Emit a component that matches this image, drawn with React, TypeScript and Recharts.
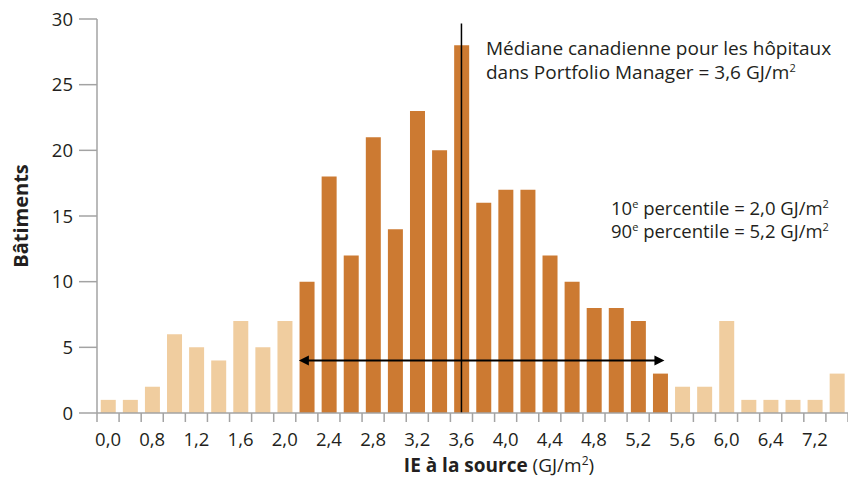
import { BarChart, Bar, Cell, XAxis, YAxis, ReferenceLine } from 'recharts';

// Nombre de bâtiments par tranche d'IE (GJ/m²)
const COUNTS = [1, 1, 2, 6, 5, 4, 7, 5, 7, 10, 18, 12, 21, 14, 23, 20, 28, 16, 17, 17, 12, 10, 8, 8, 7, 3, 2, 2, 7, 1, 1, 1, 1, 3];

// Étiquettes sous une barre sur deux (reprises telles quelles du graphique)
const TICK_LABELS = [
  '0,0', '', '0,8', '', '1,2', '', '1,6', '', '2,0', '', '2,4', '', '2,8', '', '3,2', '', '3,6',
  '', '4,0', '', '4,4', '', '4,8', '', '5,2', '', '5,6', '', '6,0', '', '6,4', '', '7,2', '',
];

const Y_TICKS = [0, 5, 10, 15, 20, 25, 30];

// Tranches entre le 10e et le 90e percentile
const P10_BIN = 9;
const P90_BIN = 25;
const MEDIAN_BIN = 16;
const ARROW_Y = 4;

const DARK = '#cc7a32';
const LIGHT = '#f0cd9f';
const AXIS = '#a3a3a3';
const INK = '#231f20';
const FONT = "'Open Sans', sans-serif";

const W = 848;
const H = 479;
const Y_AXIS_W = 97;
const PLOT_W = W - Y_AXIS_W;
const BAND = PLOT_W / COUNTS.length;

const data = COUNTS.map((count, i) => ({ bin: String(i), count }));

function XTick(props: any) {
  const { x, y, index } = props;
  const label = TICK_LABELS[index];
  const last = index === COUNTS.length - 1;
  return (
    <g>
      <line x1={x - BAND / 2} x2={x - BAND / 2} y1={y} y2={y + 9} stroke={AXIS} strokeWidth={1.5} />
      {last && <line x1={x + BAND / 2} x2={x + BAND / 2} y1={y} y2={y + 9} stroke={AXIS} strokeWidth={1.5} />}
      {label && (
        <text x={x} y={y + 33} textAnchor="middle" fontSize={18.5} fill={INK} fontFamily={FONT}>
          {label}
        </text>
      )}
    </g>
  );
}

// double flèche 10e → 90e percentile
function ArrowShape(props: any) {
  const { x1, x2, y1 } = props;
  const left = x1 - BAND * 0.36;
  const right = x2 + BAND * 0.19;
  return (
    <g>
      <line x1={left + 8} x2={right - 8} y1={y1} y2={y1} stroke="#000" strokeWidth={2} />
      <polygon points={`${left},${y1} ${left + 10},${y1 - 5} ${left + 10},${y1 + 5}`} fill="#000" />
      <polygon points={`${right},${y1} ${right - 10},${y1 - 5} ${right - 10},${y1 + 5}`} fill="#000" />
    </g>
  );
}

export default function App() {
  return (
    <div style={{ position: 'absolute', left: 0, top: 0, width: W, height: H, background: '#fff' }}>
      <BarChart
        width={W}
        height={H}
        data={data}
        margin={{ top: 19, right: 0, left: 0, bottom: 36 }}
        barCategoryGap="17%"
      >
        <XAxis
          dataKey="bin"
          height={30}
          interval={0}
          tickLine={false}
          tickSize={0}
          tickMargin={0}
          tick={<XTick />}
          axisLine={{ stroke: AXIS, strokeWidth: 1.5 }}
        />
        <YAxis
          width={Y_AXIS_W}
          domain={[0, 30]}
          ticks={Y_TICKS}
          interval={0}
          tickSize={18}
          tickMargin={6}
          tick={{ fontSize: 18.5, fill: INK, fontFamily: FONT }}
          tickLine={{ stroke: AXIS, strokeWidth: 1.5 }}
          axisLine={{ stroke: AXIS, strokeWidth: 1.5 }}
        />
        <Bar dataKey="count" isAnimationActive={false}>
          {data.map((d, i) => (
            <Cell key={d.bin} fill={i >= P10_BIN && i <= P90_BIN ? DARK : LIGHT} />
          ))}
        </Bar>
        <ReferenceLine
          segment={[{ x: String(MEDIAN_BIN), y: 29.65 }, { x: String(MEDIAN_BIN), y: 0 }]}
          stroke="#000"
          strokeWidth={1.5}
        />
        <ReferenceLine
          segment={[{ x: String(P10_BIN), y: ARROW_Y }, { x: String(P90_BIN), y: ARROW_Y }]}
          shape={<ArrowShape />}
        />
      </BarChart>

      <svg
        width={W}
        height={H}
        style={{ position: 'absolute', left: 0, top: 0, pointerEvents: 'none' }}
        fontFamily={FONT}
        fill={INK}
      >
        <text x={486} y={55} fontSize={19}>Médiane canadienne pour les hôpitaux</text>
        <text x={486} y={79} fontSize={19}>
          dans Portfolio Manager = 3,6 GJ/m<tspan dy={-7} fontSize={11}>2</tspan>
        </text>

        <text x={611} y={215} fontSize={18.5}>
          10<tspan dy={-7} fontSize={11}>e</tspan>
          <tspan dy={7}> percentile = 2,0 GJ/m</tspan>
          <tspan dy={-7} fontSize={11}>2</tspan>
        </text>
        <text x={611} y={238} fontSize={18.5}>
          90<tspan dy={-7} fontSize={11}>e</tspan>
          <tspan dy={7}> percentile = 5,2 GJ/m</tspan>
          <tspan dy={-7} fontSize={11}>2</tspan>
        </text>

        <text
          x={28}
          y={216}
          fontSize={20}
          fontWeight="bold"
          textAnchor="middle"
          transform="rotate(-90 28 216)"
        >
          Bâtiments
        </text>

        <text x={499} y={472} fontSize={19} textAnchor="middle">
          <tspan fontWeight="bold">IE à la source</tspan>
          <tspan> (GJ/m</tspan>
          <tspan dy={-7} fontSize={12}>2</tspan>
          <tspan dy={7}>)</tspan>
        </text>
      </svg>
    </div>
  );
}
